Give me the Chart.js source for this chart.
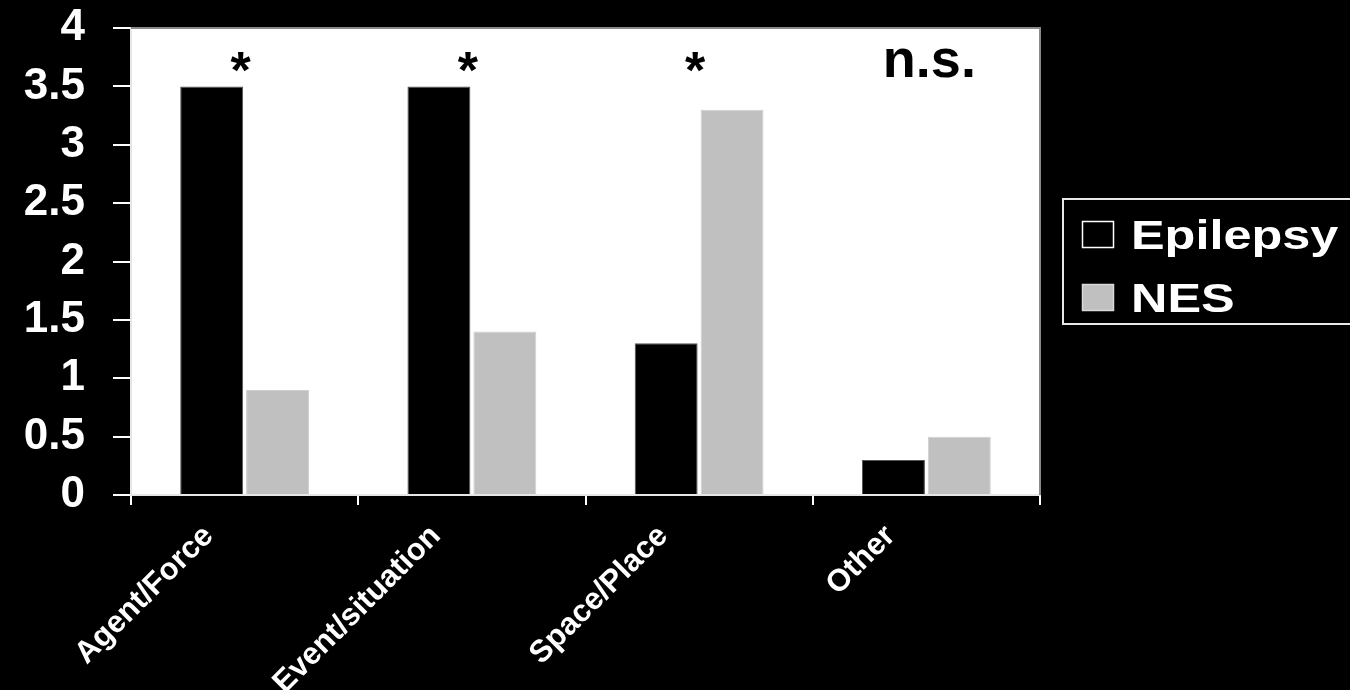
<!DOCTYPE html>
<html>
<head>
<meta charset="utf-8">
<script src="https://cdn.jsdelivr.net/npm/chart.js@4.4.1/dist/chart.umd.min.js"></script>
<style>
  html, body { margin: 0; padding: 0; background: #000; }
  #wrap { width: 1350px; height: 690px; }
</style>
</head>
<body>
<div id="wrap"><canvas id="c" width="1350" height="690"></canvas></div>
<script>
// Mean counts per metaphor category, by group
const categories = ['Agent/Force', 'Event/situation', 'Space/Place', 'Other'];
const epilepsyValues = [3.5, 3.5, 1.3, 0.3];
const nesValues = [0.9, 1.4, 3.3, 0.5];
const seriesNames = ['Epilepsy', 'NES'];
const significance = ['*', '*', '*', 'n.s.'];
const yMin = 0, yMax = 4, yStep = 0.5;

const FONT = "'Liberation Sans', Arial, Helvetica, sans-serif";

// White plotting panel with a grey frame on top and right
const panelPlugin = {
  id: 'panel',
  beforeDraw(chart) {
    const { ctx, chartArea: a } = chart;
    ctx.save();
    ctx.fillStyle = '#000';
    ctx.fillRect(0, 0, chart.width, chart.height);
    ctx.fillStyle = '#fff';
    ctx.fillRect(a.left, a.top, a.right - a.left, a.bottom - a.top);
    ctx.restore();
  },
  afterDraw(chart) {
    const { ctx, chartArea: a } = chart;
    ctx.save();
    ctx.strokeStyle = '#8a8a8a';
    ctx.lineWidth = 2;
    ctx.beginPath();
    ctx.moveTo(a.left, a.top);
    ctx.lineTo(a.right, a.top);
    ctx.lineTo(a.right, a.bottom);
    ctx.stroke();
    ctx.restore();
  }
};

// Significance markers above each category
const significancePlugin = {
  id: 'significance',
  afterDatasetsDraw(chart) {
    const { ctx, chartArea: a } = chart;
    const x = chart.scales.x;
    ctx.save();
    ctx.fillStyle = '#000';
    ctx.textAlign = 'center';
    ctx.textBaseline = 'alphabetic';
    significance.forEach((s, i) => {
      const cx = x.getPixelForValue(i);
      if (s === '*') {
        ctx.font = `bold 52px ${FONT}`;
        ctx.fillText(s, cx - 4, a.top + 60);
      } else {
        ctx.font = `bold 54px ${FONT}`;
        ctx.fillText(s, cx + 3, a.top + 49);
      }
    });
    ctx.restore();
  }
};

// Boxed legend at the right, text widened to match the slide styling
const boxLegendPlugin = {
  id: 'boxLegend',
  afterDraw(chart) {
    const { ctx } = chart;
    const left = 1063, top = 199, bottom = 324;
    ctx.save();
    ctx.strokeStyle = '#e8e8e8';
    ctx.lineWidth = 2;
    ctx.strokeRect(left, top, chart.width + 10 - left, bottom - top);
    chart.data.datasets.forEach((ds, i) => {
      const rowY = 221 + i * 63;
      ctx.fillStyle = ds.backgroundColor;
      ctx.fillRect(1082, rowY, 32, 27);
      ctx.strokeStyle = i === 0 ? '#fff' : '#d8d8d8';
      ctx.lineWidth = 1.5;
      ctx.strokeRect(1082.5, rowY + 0.5, 31, 26);
      ctx.save();
      ctx.translate(1131, rowY + 28);
      ctx.scale(1.26, 1);
      ctx.fillStyle = '#fff';
      ctx.font = `bold 40px ${FONT}`;
      ctx.textBaseline = 'alphabetic';
      ctx.textAlign = 'left';
      ctx.fillText(ds.label, 0, 0);
      ctx.restore();
    });
    ctx.restore();
  }
};

new Chart(document.getElementById('c'), {
  type: 'bar',
  data: {
    labels: categories,
    datasets: [
      {
        label: seriesNames[0],
        data: epilepsyValues,
        backgroundColor: '#000',
        borderColor: '#555',
        borderWidth: 1,
        categoryPercentage: 0.58,
        barPercentage: 0.955
      },
      {
        label: seriesNames[1],
        data: nesValues,
        backgroundColor: '#c0c0c0',
        borderColor: '#cfcfcf',
        borderWidth: 1,
        categoryPercentage: 0.58,
        barPercentage: 0.955
      }
    ]
  },
  options: {
    responsive: false,
    animation: false,
    devicePixelRatio: 1,
    layout: { padding: { top: 28, right: 310, left: 0, bottom: 0 } },
    plugins: {
      legend: { display: false },
      tooltip: { enabled: false }
    },
    scales: {
      x: {
        offset: true,
        grid: {
          offset: true,
          drawOnChartArea: false,
          drawTicks: true,
          tickLength: 10,
          color: '#fff',
          lineWidth: 2
        },
        border: { display: true, color: '#e6e6e6', width: 2 },
        ticks: {
          color: '#fff',
          font: { family: FONT, size: 31, weight: 'bold' },
          minRotation: 45,
          maxRotation: 45,
          autoSkip: false,
          labelOffset: -36,
          padding: 13
        },
        afterFit(scale) { scale.height = 195; }
      },
      y: {
        min: yMin,
        max: yMax,
        grid: {
          drawOnChartArea: false,
          drawTicks: true,
          tickLength: 18,
          color: '#fff',
          lineWidth: 2
        },
        border: { display: true, color: '#e6e6e6', width: 2 },
        ticks: {
          stepSize: yStep,
          autoSkip: false,
          color: '#fff',
          font: { family: FONT, size: 44, weight: 'bold', lineHeight: 1 },
          padding: 28,
          callback: (v) => String(v)
        },
        afterFit(scale) {
          scale.width = 131;
          scale.paddingTop = 0;
          scale.paddingBottom = 0;
        }
      }
    }
  },
  plugins: [panelPlugin, significancePlugin, boxLegendPlugin]
});
</script>
</body>
</html>
